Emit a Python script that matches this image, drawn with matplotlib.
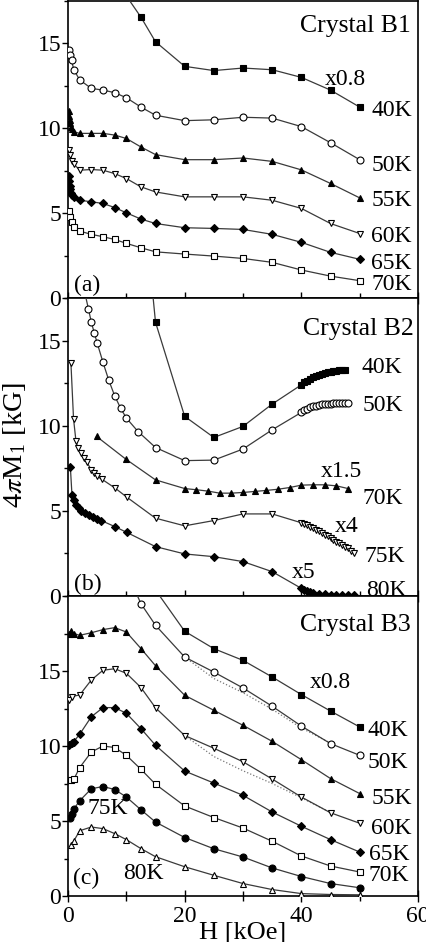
import matplotlib
matplotlib.use("Agg")
import matplotlib.pyplot as plt
from matplotlib.ticker import MultipleLocator

plt.rcParams['font.family'] = ['Liberation Serif', 'DejaVu Serif']
plt.rcParams['mathtext.fontset'] = 'stix'

# ---- panel (a) : Crystal B1 ----
xa_40 = [10, 12.5, 15, 20, 25, 30, 35, 40, 45, 50]
ya_40 = [17.8, 16.55, 15.1, 13.65, 13.4, 13.55, 13.45, 13.0, 12.25, 11.25]
xa_50 = [0.2, 0.4, 0.6, 1.0, 2, 4, 6, 8, 10, 12.5, 15, 20, 25, 30, 35, 40, 45, 50]
ya_50 = [14.6, 14.3, 14.0, 13.45, 12.85, 12.35, 12.25, 12.1, 11.8, 11.25, 10.77,
         10.45, 10.5, 10.65, 10.6, 10.1, 9.15, 8.15]
xa_55 = [0.1, 0.2, 0.3, 0.4, 0.5, 0.7, 1.0, 2, 4, 6, 8, 10, 12.5, 15, 20, 25, 30, 35, 40, 45, 50]
ya_55 = [11.0, 10.75, 10.5, 10.3, 10.1, 9.95, 9.8, 9.7, 9.7, 9.7, 9.6, 9.4, 8.9, 8.45,
         8.15, 8.15, 8.25, 8.05, 7.55, 6.75, 5.9]
xa_60 = [0.2, 0.4, 0.7, 1.0, 2, 4, 6, 8, 10, 12.5, 15, 20, 25, 30, 35, 40, 45, 50]
ya_60 = [8.7, 8.4, 8.1, 7.9, 7.53, 7.57, 7.53, 7.33, 7.04, 6.55, 6.25, 5.96, 5.96,
         5.96, 5.76, 5.28, 4.39, 3.8]
xa_65 = [0.1, 0.2, 0.3, 0.4, 0.5, 0.7, 1.0, 2, 4, 6, 8, 10, 12.5, 15, 20, 25, 30, 35, 40, 45, 50]
ya_65 = [7.2, 6.9, 6.6, 6.4, 6.2, 6.05, 5.95, 5.76, 5.67, 5.57, 5.33, 5.02, 4.65, 4.39,
         4.14, 4.1, 4.04, 3.75, 3.28, 2.69, 2.28]
xa_70 = [0.2, 0.4, 0.7, 1.0, 2, 4, 6, 8, 10, 12.5, 15, 20, 25, 30, 35, 40, 45, 50]
ya_70 = [5.15, 4.8, 4.45, 4.2, 3.94, 3.75, 3.61, 3.45, 3.22, 2.96, 2.72, 2.59, 2.47,
         2.33, 2.1, 1.65, 1.29, 1.02]

# ---- panel (b) : Crystal B2 ----
xb_40 = [14, 15, 20, 25, 30, 35, 40, 40.5, 41, 41.5, 42, 42.5, 43, 43.5, 44, 44.5,
         45, 45.5, 46, 46.5, 47, 47.5]
yb_40 = [19.6, 16.08, 10.55, 9.31, 9.96, 11.27, 12.4, 12.55, 12.65, 12.75, 12.85,
         12.93, 13.0, 13.05, 13.1, 13.15, 13.18, 13.21, 13.24, 13.26, 13.28, 13.3]
xb_50 = [2.5, 3.5, 4, 4.5, 5, 6, 7, 8, 9, 10, 12, 15, 20, 25, 30, 35, 40, 40.5, 41,
         41.5, 42, 42.5, 43, 43.5, 44, 44.5, 45, 45.5, 46, 46.5, 47, 47.5, 48]
yb_50 = [18.4, 16.86, 16.08, 15.45, 14.86, 13.72, 12.66, 11.76, 11.04, 10.45, 9.66,
         8.72, 7.95, 7.98, 8.63, 9.76, 10.78, 10.92, 11.0, 11.07, 11.13, 11.18, 11.22,
         11.25, 11.27, 11.29, 11.3, 11.31, 11.32, 11.33, 11.33, 11.33, 11.33]
xb_70 = [4.9, 9.9, 15, 20, 22, 24, 26, 28, 30, 32, 34, 36, 38, 40, 42, 44, 46, 48]
yb_70 = [9.37, 8.04, 6.82, 6.31, 6.24, 6.16, 6.04, 6.04, 6.08, 6.14, 6.2, 6.27, 6.37,
         6.51, 6.53, 6.53, 6.47, 6.31]
xb_75 = [0.5, 0.95, 1.37, 1.7, 2.2, 2.7, 3.25, 4, 4.4, 5, 5.8, 8.1, 10.1, 15, 20, 25,
         30, 35, 40, 40.5, 41, 41.5, 42, 42.5, 43, 43.5, 44, 44.5, 45, 45.5, 46, 46.5,
         47, 47.5, 48, 48.5, 49]
yb_75 = [13.69, 10.4, 9.08, 8.69, 8.39, 8.1, 7.84, 7.41, 7.22, 7.02, 6.86, 6.33, 5.8,
         4.57, 4.12, 4.43, 4.82, 4.82, 4.3, 4.22, 4.15, 4.08, 4.0, 3.9, 3.8, 3.7, 3.6,
         3.5, 3.4, 3.3, 3.2, 3.1, 3.0, 2.9, 2.8, 2.65, 2.5]
xb_80 = [0.4, 0.68, 0.97, 1.37, 1.83, 2.28, 2.85, 3.54, 4.22, 4.96, 5.7, 8.0, 10.1,
         15, 20, 25, 30, 35, 40, 40.5, 41, 41.5, 42, 43, 44, 45, 46, 47, 48, 49]
yb_80 = [7.6, 5.94, 5.65, 5.35, 5.16, 5.02, 4.86, 4.73, 4.63, 4.53, 4.43, 4.08, 3.73,
         2.9, 2.47, 2.31, 2.02, 1.43, 0.45, 0.35, 0.28, 0.22, 0.18, 0.13, 0.1, 0.08,
         0.06, 0.05, 0.04, 0.03]

# ---- panel (c) : Crystal B3 ----
xc_40 = [15, 20, 25, 30, 35, 40, 45, 50]
yc_40 = [20.4, 17.65, 16.49, 15.71, 14.6, 13.43, 12.33, 11.27]
xc_50 = [11, 12.5, 15, 20, 25, 30, 35, 40, 45, 50]
yc_50 = [20.8, 19.49, 18.05, 15.93, 14.93, 13.87, 12.65, 11.33, 10.16, 9.38]
xc_55 = [0.1, 0.5, 1.0, 2, 4, 6, 8, 10, 12.5, 15, 20, 25, 30, 35, 40, 45, 50]
yc_55 = [17.45, 17.65, 17.5, 17.38, 17.55, 17.76, 17.89, 17.6, 16.5, 15.35, 13.38,
         12.38, 11.38, 10.31, 9.09, 7.83, 6.83]
xc_60 = [0.2, 0.6, 2, 4, 6, 8, 10, 12.5, 15, 20, 25, 30, 35, 40, 45, 50]
yc_60 = [13.1, 13.3, 13.4, 14.4, 15.05, 15.15, 14.85, 13.9, 12.55, 10.7, 9.85, 8.95,
         7.8, 6.6, 5.55, 4.85]
xc_65 = [0.2, 0.6, 1.0, 2, 4, 6, 8, 10, 12.5, 15, 20, 25, 30, 35, 40, 45, 50]
yc_65 = [10.1, 10.2, 10.3, 10.78, 11.95, 12.56, 12.56, 12.18, 11.16, 10.05, 8.33,
         7.53, 6.71, 5.6, 4.65, 3.76, 2.93]
xc_70 = [0.5, 1, 2, 4, 6, 8, 10, 12.5, 15, 20, 25, 30, 35, 40, 45, 50]
yc_70 = [7.71, 7.78, 8.56, 9.6, 10.0, 9.9, 9.38, 8.45, 7.45, 6.0, 5.23, 4.53, 3.65,
         2.67, 2.0, 1.6]
xc_75 = [0.3, 0.6, 1, 2, 4, 6, 8, 10, 12.5, 15, 20, 25, 30, 35, 40, 45, 50]
yc_75 = [5.2, 5.45, 5.8, 6.35, 7.15, 7.3, 7.1, 6.6, 5.75, 4.93, 3.9, 3.15, 2.6, 1.87,
         1.3, 0.83, 0.55]
xc_80 = [0.5, 1, 2, 4, 6, 8, 10, 12.5, 15, 20, 25, 30, 35, 40, 45, 50]
yc_80 = [3.38, 3.67, 4.35, 4.6, 4.49, 4.16, 3.76, 3.16, 2.62, 1.95, 1.38, 0.83, 0.43,
         0.16, 0.1, 0.08]
# dotted reference curves in (c)
xc_fit1 = [20, 25, 30, 35, 40, 45]
yc_fit1 = [15.93, 14.5, 13.55, 12.45, 11.2, 10.2]
xc_fit2 = [20, 25, 30, 35, 40, 45]
yc_fit2 = [10.7, 9.3, 8.35, 7.5, 6.55, 5.56]

LC = '#3a3a3a'


def curve(ax, x, y, m, filled, ms=5.0):
    ax.plot(x, y, '-', color=LC, lw=0.9, marker=m, ms=ms,
            mfc='black' if filled else 'white', mec='black', mew=0.8,
            clip_on=True, zorder=3)


W, H = 426, 942
fig = plt.figure(figsize=(W / 100, H / 100), dpi=100)
left, right = 68 / W, 418 / W
axa = fig.add_axes([left, 1 - 298 / H, right - left, 297 / H])
axb = fig.add_axes([left, 1 - 596 / H, right - left, 298 / H])
axc = fig.add_axes([left, 1 - 896 / H, right - left, 300 / H])

curve(axa, xa_40, ya_40, 's', True)
curve(axa, xa_50, ya_50, 'o', False)
curve(axa, xa_55, ya_55, '^', True)
curve(axa, xa_60, ya_60, 'v', False)
curve(axa, xa_65, ya_65, 'D', True, 4.2)
curve(axa, xa_70, ya_70, 's', False)

curve(axb, xb_40, yb_40, 's', True)
curve(axb, xb_50, yb_50, 'o', False)
curve(axb, xb_70, yb_70, '^', True)
curve(axb, xb_75, yb_75, 'v', False)
curve(axb, xb_80, yb_80, 'D', True, 4.2)

axc.plot(xc_fit1, yc_fit1, ':', color='#777777', lw=0.9, zorder=2)
axc.plot(xc_fit2, yc_fit2, ':', color='#777777', lw=0.9, zorder=2)
curve(axc, xc_40, yc_40, 's', True)
curve(axc, xc_50, yc_50, 'o', False)
curve(axc, xc_55, yc_55, '^', True)
curve(axc, xc_60, yc_60, 'v', False)
curve(axc, xc_65, yc_65, 'D', True, 4.2)
curve(axc, xc_70, yc_70, 's', False)
curve(axc, xc_75, yc_75, 'o', True)
curve(axc, xc_80, yc_80, '^', False)

for ax, top in ((axa, 17.5), (axb, 17.5), (axc, 20)):
    ax.set_xlim(0, 60)
    ax.set_ylim(0, top)
    ax.xaxis.set_major_locator(MultipleLocator(20))
    ax.xaxis.set_minor_locator(MultipleLocator(10))
    ax.yaxis.set_major_locator(MultipleLocator(5))
    ax.yaxis.set_minor_locator(MultipleLocator(2.5))
    ax.tick_params(axis='x', which='major', direction='inout', length=8, width=1,
                   labelsize=17, pad=3)
    ax.tick_params(axis='x', which='minor', direction='inout', length=7, width=1)
    ax.tick_params(axis='y', which='major', direction='out', length=4, width=1,
                   labelsize=17, pad=1)
    ax.tick_params(axis='y', which='minor', direction='out', length=3, width=1)
    for s in ax.spines.values():
        s.set_linewidth(1.2)
    ax.set_yticks([0, 5, 10, 15])

axa.tick_params(axis='x', labelbottom=False)
axb.tick_params(axis='x', labelbottom=False)

fs = 17
# labels panel (a)
axa.text(58.8, 16.05, 'Crystal B1', ha='right', va='center', fontsize=18.5)
axa.text(44.0, 12.9, 'x0.8', ha='left', va='center', fontsize=fs)
for t, y in (('40K', 11.06), ('50K', 7.8), ('55K', 5.76), ('60K', 3.6),
             ('65K', 2.06), ('70K', 0.82)):
    axa.text(52.0, y, t, ha='left', va='center', fontsize=fs)
axa.text(1.0, 0.76, '(a)', ha='left', va='center', fontsize=fs)

# labels panel (b)
axb.text(59.3, 15.7, 'Crystal B2', ha='right', va='center', fontsize=18.5)
for t, x, y in (('40K', 50.3, 13.4), ('50K', 50.5, 11.2), ('x1.5', 43.4, 7.3),
                ('70K', 50.5, 5.7), ('x4', 45.7, 4.06), ('75K', 50.8, 2.3),
                ('x5', 38.3, 1.4), ('80K', 51.1, 0.3)):
    axb.text(x, y, t, ha='left', va='center', fontsize=fs)
axb.text(1.0, 0.65, '(b)', ha='left', va='center', fontsize=fs)

# labels panel (c)
axc.text(58.8, 18.05, 'Crystal B3', ha='right', va='center', fontsize=18.5)
for t, x, y in (('x0.8', 41.4, 14.2), ('40K', 51.3, 11.05), ('50K', 51.3, 8.9),
                ('55K', 52.0, 6.5), ('60K', 52.0, 4.5), ('65K', 51.6, 2.75),
                ('70K', 51.6, 1.35), ('75K', 3.4, 5.85), ('80K', 9.4, 1.5)):
    axc.text(x, y, t, ha='left', va='center', fontsize=fs)
axc.text(0.85, 1.2, '(c)', ha='left', va='center', fontsize=fs)

fig.text(243 / W, 1 - 922 / H, 'H [kOe]', ha='center', va='top', fontsize=19)
fig.text(15 / W, 1 - 445 / H, r'4$\pi$M$_\mathregular{1}$ [kG]', rotation=90,
         ha='center', va='center', fontsize=20.5)

fig.savefig('out.png', dpi=100)
